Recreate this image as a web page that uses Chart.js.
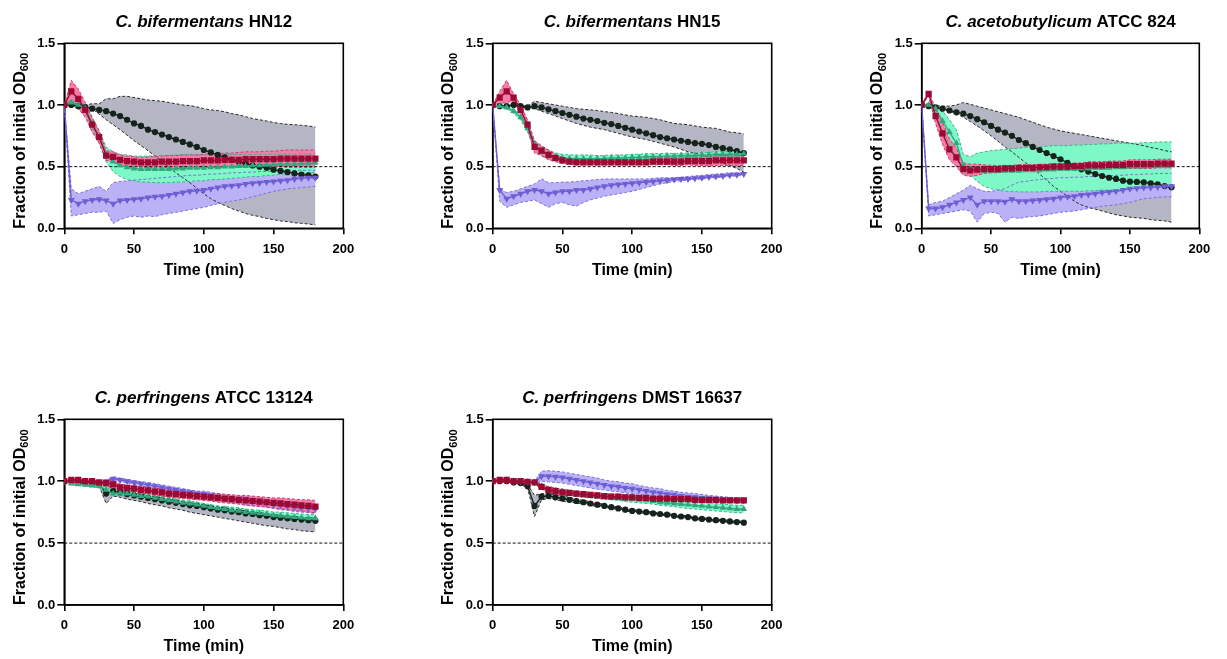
<!DOCTYPE html>
<html><head><meta charset="utf-8">
<script src="https://cdn.jsdelivr.net/npm/chart.js@4/dist/chart.umd.min.js"></script>
<style>
html,body{margin:0;padding:0;background:#fff;width:1227px;height:659px;overflow:hidden}
canvas{position:absolute;left:0;top:0}
</style>
</head><body>
<canvas id="c0" width="1227" height="659"></canvas>
<canvas id="c1" width="1227" height="659"></canvas>
<canvas id="c2" width="1227" height="659"></canvas>
<canvas id="c3" width="1227" height="659"></canvas>
<canvas id="c4" width="1227" height="659"></canvas>
<script>
// ---------- shared axes ----------
const T = [0,5,10,15,20,25,30,35,40,45,50,55,60,65,70,75,80,85,90,95,100,105,110,115,120,125,130,135,140,145,150,155,160,165,170,175,180];
const X_TICKS = [0,50,100,150,200];
const Y_TICKS = [0,0.5,1.0,1.5];
const REF = 0.5;
const TITLES = [
  ['C. bifermentans','HN12'],
  ['C. bifermentans','HN15'],
  ['C. acetobutylicum','ATCC 824'],
  ['C. perfringens','ATCC 13124'],
  ['C. perfringens','DMST 16637']
];
const X_TITLE = 'Time (min)';
const Y_TITLE = 'Fraction of initial OD';
const Y_TITLE_SUB = '600';

// ---------- C. bifermentans HN12 ----------
const HN12_BLACK = [1.00,1.00,0.99,0.98,0.97,0.96,0.95,0.93,0.91,0.88,
  0.85,0.83,0.80,0.78,0.76,0.74,0.72,0.70,0.68,0.66,
  0.635,0.615,0.595,0.575,0.555,0.54,0.525,0.51,0.50,0.49,
  0.475,0.465,0.455,0.445,0.435,0.43,0.42];
const HN12_BLACK_HI = [1.00,1.00,1.00,1.00,1.01,1.01,1.05,1.05,1.07,1.07,
  1.06,1.05,1.04,1.035,1.03,1.02,1.01,1.00,0.995,0.985,
  0.97,0.96,0.955,0.945,0.93,0.92,0.905,0.89,0.88,0.87,
  0.857,0.85,0.843,0.84,0.835,0.83,0.82];
const HN12_BLACK_LO = [1.00,0.995,0.99,0.98,0.97,0.925,0.88,0.84,0.80,0.755,
  0.71,0.67,0.63,0.585,0.54,0.495,0.45,0.41,0.37,0.325,
  0.28,0.24,0.21,0.185,0.16,0.14,0.12,0.105,0.095,0.08,
  0.07,0.06,0.055,0.045,0.04,0.035,0.027];
const HN12_RED = [1.00,1.11,1.05,0.96,0.84,0.74,0.59,0.58,0.555,0.545,
  0.54,0.535,0.535,0.535,0.54,0.54,0.54,0.545,0.545,0.545,
  0.55,0.55,0.55,0.555,0.555,0.555,0.56,0.56,0.56,0.56,
  0.56,0.565,0.565,0.565,0.565,0.565,0.565];
const HN12_RED_SD = [0,0.09,0.08,0.06,0.06,0.05,0.04,0.04,0.04,0.04,
  0.04,0.04,0.045,0.045,0.045,0.05,0.05,0.05,0.05,0.05,
  0.05,0.055,0.055,0.055,0.055,0.06,0.06,0.06,0.06,0.065,
  0.065,0.065,0.07,0.07,0.07,0.07,0.07];
const HN12_GREEN = [1.00,1.02,1.00,0.97,0.85,0.74,0.60,0.54,0.51,0.495,
  0.485,0.48,0.48,0.48,0.48,0.48,0.485,0.485,0.49,0.49,
  0.49,0.495,0.495,0.50,0.50,0.505,0.505,0.51,0.51,0.515,
  0.515,0.52,0.52,0.52,0.525,0.525,0.53];
const HN12_GREEN_SD = [0,0.02,0.02,0.03,0.04,0.05,0.06,0.08,0.09,0.10,
  0.10,0.105,0.105,0.11,0.11,0.11,0.11,0.11,0.11,0.105,
  0.105,0.10,0.10,0.10,0.095,0.095,0.09,0.09,0.09,0.085,
  0.085,0.08,0.08,0.08,0.08,0.075,0.075];
const HN12_PURPLE = [1.00,0.23,0.20,0.22,0.23,0.235,0.225,0.20,0.225,0.23,
  0.235,0.24,0.25,0.255,0.26,0.27,0.28,0.29,0.30,0.305,
  0.31,0.32,0.33,0.34,0.345,0.35,0.36,0.365,0.37,0.375,
  0.38,0.385,0.39,0.40,0.405,0.41,0.41];
const HN12_PURPLE_HI = [1.00,0.32,0.28,0.30,0.32,0.34,0.30,0.37,0.38,0.385,
  0.39,0.395,0.40,0.405,0.41,0.415,0.42,0.425,0.43,0.43,
  0.435,0.44,0.44,0.445,0.45,0.45,0.455,0.455,0.46,0.46,
  0.465,0.465,0.47,0.47,0.47,0.47,0.47];
const HN12_PURPLE_LO = [1.00,0.10,0.11,0.12,0.13,0.13,0.14,0.04,0.07,0.09,
  0.10,0.09,0.10,0.095,0.11,0.12,0.13,0.14,0.15,0.16,
  0.17,0.185,0.20,0.21,0.22,0.23,0.24,0.255,0.27,0.285,
  0.30,0.31,0.32,0.325,0.33,0.335,0.34];

// ---------- C. bifermentans HN15 ----------
const HN15_BLACK = [1.00,0.99,0.99,1.00,0.99,0.98,0.99,0.98,0.965,0.95,
  0.935,0.92,0.905,0.89,0.88,0.87,0.855,0.845,0.83,0.815,
  0.80,0.785,0.77,0.755,0.74,0.73,0.72,0.71,0.70,0.69,
  0.685,0.675,0.66,0.65,0.64,0.625,0.61];
const HN15_BLACK_HI = [1.00,0.995,0.995,1.00,0.995,0.99,1.03,1.02,1.01,1.00,
  0.99,0.98,0.97,0.965,0.96,0.955,0.946,0.94,0.93,0.92,
  0.91,0.905,0.90,0.89,0.88,0.865,0.85,0.845,0.84,0.83,
  0.82,0.815,0.81,0.795,0.78,0.775,0.765];
const HN15_BLACK_LO = [1.00,0.985,0.985,1.00,0.985,0.97,0.97,0.95,0.93,0.91,
  0.89,0.87,0.85,0.835,0.82,0.81,0.80,0.785,0.77,0.755,
  0.74,0.73,0.72,0.705,0.69,0.675,0.66,0.64,0.62,0.61,
  0.595,0.575,0.55,0.53,0.51,0.485,0.455];
const HN15_RED = [1.00,1.06,1.11,1.06,0.96,0.84,0.66,0.63,0.595,0.57,
  0.55,0.54,0.535,0.535,0.535,0.535,0.535,0.535,0.535,0.535,
  0.535,0.535,0.535,0.54,0.54,0.54,0.54,0.54,0.545,0.545,
  0.545,0.545,0.55,0.55,0.55,0.55,0.55];
const HN15_RED_SD = [0,0.05,0.09,0.03,0.04,0.04,0.05,0.04,0.04,0.03,
  0.025,0.02,0.02,0.02,0.02,0.02,0.02,0.02,0.02,0.02,
  0.02,0.02,0.02,0.025,0.025,0.025,0.03,0.03,0.03,0.035,
  0.035,0.04,0.04,0.04,0.04,0.04,0.04];
const HN15_GREEN = [1.00,0.99,0.98,0.95,0.90,0.81,0.68,0.62,0.60,0.58,
  0.57,0.565,0.565,0.565,0.565,0.565,0.565,0.57,0.57,0.57,
  0.575,0.575,0.58,0.58,0.58,0.585,0.585,0.59,0.59,0.59,
  0.595,0.595,0.60,0.60,0.60,0.60,0.605];
const HN15_GREEN_SD = [0,0.01,0.01,0.02,0.02,0.03,0.03,0.035,0.035,0.03,
  0.03,0.03,0.03,0.03,0.03,0.025,0.025,0.025,0.025,0.025,
  0.025,0.025,0.025,0.025,0.025,0.025,0.02,0.02,0.02,0.02,
  0.02,0.02,0.02,0.02,0.02,0.02,0.02];
const HN15_PURPLE = [1.00,0.31,0.24,0.26,0.28,0.30,0.31,0.30,0.28,0.29,
  0.30,0.30,0.31,0.31,0.32,0.33,0.34,0.35,0.355,0.36,
  0.365,0.37,0.375,0.38,0.385,0.39,0.395,0.40,0.40,0.405,
  0.41,0.415,0.42,0.425,0.43,0.435,0.44];
const HN15_PURPLE_HI = [1.00,0.32,0.29,0.30,0.32,0.34,0.36,0.40,0.37,0.37,
  0.375,0.375,0.38,0.385,0.39,0.395,0.40,0.40,0.40,0.40,
  0.40,0.40,0.40,0.405,0.41,0.41,0.41,0.415,0.42,0.425,
  0.43,0.435,0.44,0.445,0.45,0.45,0.45];
const HN15_PURPLE_LO = [1.00,0.22,0.17,0.19,0.21,0.22,0.23,0.20,0.17,0.20,
  0.21,0.19,0.18,0.21,0.23,0.245,0.26,0.27,0.28,0.29,
  0.30,0.315,0.33,0.345,0.36,0.37,0.38,0.385,0.39,0.395,
  0.40,0.405,0.41,0.415,0.42,0.425,0.43];

// ---------- C. acetobutylicum ATCC 824 ----------
const A824_BLACK = [1.00,0.99,0.98,0.97,0.955,0.94,0.93,0.91,0.885,0.86,
  0.83,0.80,0.776,0.75,0.716,0.69,0.66,0.635,0.61,0.586,
  0.56,0.53,0.50,0.478,0.46,0.44,0.424,0.41,0.40,0.386,
  0.378,0.376,0.373,0.365,0.357,0.343,0.332];
const A824_BLACK_HI = [1.00,1.00,0.995,0.99,0.99,1.00,1.02,1.005,0.99,0.975,
  0.96,0.945,0.93,0.915,0.90,0.88,0.86,0.84,0.82,0.805,
  0.79,0.78,0.77,0.76,0.75,0.74,0.73,0.72,0.71,0.70,
  0.69,0.68,0.67,0.655,0.645,0.63,0.62];
const A824_BLACK_LO = [1.00,0.99,0.975,0.965,0.95,0.93,0.90,0.865,0.83,0.79,
  0.75,0.705,0.66,0.62,0.575,0.53,0.49,0.44,0.39,0.34,
  0.30,0.26,0.22,0.19,0.17,0.155,0.14,0.125,0.11,0.10,
  0.09,0.085,0.08,0.07,0.065,0.06,0.05];
const A824_RED = [1.00,1.09,0.91,0.77,0.64,0.575,0.48,0.47,0.475,0.48,
  0.48,0.48,0.485,0.485,0.49,0.49,0.49,0.495,0.495,0.50,
  0.50,0.50,0.505,0.505,0.51,0.51,0.51,0.515,0.515,0.515,
  0.52,0.52,0.52,0.52,0.525,0.525,0.525];
const A824_RED_SD = [0,0.02,0.06,0.09,0.085,0.075,0.05,0.05,0.045,0.035,
  0.03,0.03,0.025,0.025,0.025,0.025,0.025,0.025,0.025,0.025,
  0.025,0.025,0.025,0.025,0.03,0.03,0.03,0.03,0.03,0.03,
  0.035,0.035,0.035,0.035,0.035,0.035,0.035];
const A824_GREEN = [1.00,1.00,0.97,0.87,0.78,0.69,0.51,0.48,0.47,0.465,
  0.465,0.465,0.465,0.465,0.465,0.47,0.47,0.47,0.475,0.475,
  0.48,0.48,0.48,0.485,0.485,0.49,0.49,0.49,0.495,0.495,
  0.50,0.50,0.50,0.505,0.505,0.51,0.51];
const A824_GREEN_HI = [1.00,1.01,1.00,0.95,0.88,0.80,0.60,0.58,0.61,0.62,
  0.63,0.635,0.64,0.645,0.65,0.655,0.66,0.66,0.665,0.67,
  0.67,0.67,0.675,0.675,0.68,0.68,0.685,0.685,0.69,0.69,
  0.69,0.69,0.695,0.695,0.70,0.70,0.70];
const A824_GREEN_LO = [1.00,0.99,0.94,0.79,0.68,0.58,0.45,0.43,0.38,0.34,
  0.32,0.31,0.30,0.30,0.295,0.295,0.295,0.295,0.30,0.30,
  0.30,0.30,0.30,0.30,0.305,0.305,0.31,0.31,0.31,0.315,
  0.32,0.325,0.33,0.335,0.34,0.34,0.345];
const A824_PURPLE = [1.00,0.16,0.16,0.17,0.19,0.21,0.23,0.25,0.19,0.22,
  0.22,0.22,0.215,0.235,0.22,0.22,0.225,0.23,0.235,0.24,
  0.25,0.255,0.26,0.27,0.275,0.28,0.29,0.295,0.30,0.31,
  0.32,0.325,0.33,0.33,0.335,0.34,0.34];
const A824_PURPLE_HI = [1.00,0.19,0.21,0.22,0.25,0.28,0.31,0.35,0.32,0.30,
  0.30,0.31,0.32,0.35,0.375,0.38,0.39,0.395,0.40,0.405,
  0.41,0.41,0.415,0.415,0.42,0.42,0.425,0.425,0.43,0.43,
  0.435,0.435,0.44,0.44,0.445,0.445,0.445];
const A824_PURPLE_LO = [1.00,0.10,0.11,0.12,0.13,0.14,0.15,0.14,0.05,0.12,
  0.13,0.12,0.05,0.09,0.08,0.09,0.095,0.10,0.11,0.12,
  0.13,0.135,0.14,0.15,0.16,0.17,0.18,0.185,0.19,0.20,
  0.21,0.225,0.24,0.245,0.25,0.255,0.255];

// ---------- C. perfringens ATCC 13124 ----------
const P131_BLACK = [1.00,1.00,0.995,0.99,0.99,0.98,0.90,0.92,0.91,0.895,
  0.885,0.875,0.865,0.855,0.845,0.835,0.825,0.815,0.805,0.80,
  0.79,0.78,0.77,0.765,0.755,0.75,0.74,0.735,0.725,0.72,
  0.71,0.705,0.70,0.695,0.69,0.685,0.68];
const P131_BLACK_HI = [1.00,1.005,1.00,0.995,0.995,0.99,0.97,0.94,0.93,0.915,
  0.905,0.895,0.885,0.875,0.865,0.855,0.845,0.835,0.825,0.82,
  0.81,0.80,0.79,0.785,0.775,0.77,0.76,0.755,0.745,0.74,
  0.73,0.725,0.72,0.715,0.71,0.705,0.70];
const P131_BLACK_LO = [1.00,0.995,0.985,0.98,0.98,0.96,0.82,0.88,0.87,0.855,
  0.845,0.835,0.82,0.81,0.80,0.785,0.775,0.765,0.75,0.74,
  0.73,0.72,0.71,0.70,0.69,0.68,0.67,0.66,0.65,0.64,
  0.635,0.625,0.615,0.61,0.60,0.595,0.59];
const P131_RED = [1.00,1.01,1.01,1.00,1.00,0.99,0.985,0.975,0.95,0.945,
  0.94,0.93,0.925,0.915,0.91,0.90,0.895,0.89,0.885,0.88,
  0.875,0.87,0.865,0.86,0.855,0.85,0.845,0.84,0.835,0.83,
  0.825,0.82,0.815,0.81,0.805,0.80,0.795];
const P131_RED_SD = [0,0.01,0.01,0.01,0.01,0.01,0.02,0.03,0.025,0.025,
  0.025,0.025,0.025,0.03,0.03,0.03,0.03,0.03,0.03,0.03,
  0.03,0.03,0.035,0.035,0.035,0.035,0.04,0.04,0.04,0.04,
  0.04,0.045,0.045,0.045,0.045,0.05,0.05];
const P131_GREEN = [1.00,0.98,0.975,0.97,0.965,0.96,0.93,0.90,0.905,0.90,
  0.89,0.88,0.875,0.865,0.855,0.845,0.835,0.825,0.82,0.81,
  0.80,0.79,0.78,0.775,0.765,0.76,0.75,0.745,0.74,0.735,
  0.725,0.72,0.715,0.71,0.705,0.70,0.70];
const P131_GREEN_SD = [0,0.01,0.01,0.01,0.01,0.015,0.02,0.02,0.02,0.02,
  0.02,0.02,0.02,0.02,0.02,0.02,0.02,0.02,0.02,0.02,
  0.02,0.02,0.02,0.02,0.025,0.025,0.025,0.025,0.025,0.025,
  0.025,0.03,0.03,0.03,0.03,0.03,0.03];
const P131_PURPLE = [1.00,1.00,1.00,1.00,0.99,0.99,1.00,1.02,1.01,1.00,
  0.99,0.98,0.97,0.96,0.95,0.94,0.93,0.92,0.91,0.90,
  0.895,0.885,0.875,0.865,0.855,0.85,0.84,0.835,0.83,0.82,
  0.81,0.805,0.80,0.79,0.785,0.78,0.775];
const P131_PURPLE_SD = [0,0.01,0.01,0.01,0.01,0.01,0.01,0.015,0.015,0.015,
  0.015,0.015,0.02,0.02,0.02,0.02,0.02,0.02,0.02,0.02,
  0.025,0.025,0.025,0.025,0.025,0.03,0.03,0.03,0.03,0.03,
  0.03,0.035,0.035,0.035,0.035,0.035,0.035];

// ---------- C. perfringens DMST 16637 ----------
const D166_BLACK = [1.00,1.00,1.00,0.99,0.985,0.96,0.80,0.875,0.88,0.87,
  0.86,0.85,0.84,0.83,0.82,0.81,0.80,0.79,0.78,0.77,
  0.76,0.755,0.75,0.74,0.735,0.73,0.72,0.715,0.71,0.70,
  0.695,0.69,0.685,0.68,0.675,0.67,0.665];
const D166_BLACK_SD = [0,0.005,0.005,0.01,0.01,0.015,0.085,0.025,0.02,0.02,
  0.02,0.02,0.015,0.015,0.015,0.015,0.01,0.01,0.01,0.01,
  0.01,0.01,0.01,0.01,0.01,0.01,0.01,0.01,0.01,0.01,
  0.01,0.01,0.01,0.01,0.01,0.01,0.01];
const D166_RED = [1.00,1.01,1.01,1.00,1.00,0.995,0.99,0.955,0.93,0.92,
  0.91,0.905,0.90,0.895,0.89,0.885,0.88,0.875,0.875,0.87,
  0.87,0.865,0.865,0.86,0.86,0.86,0.855,0.855,0.855,0.85,
  0.85,0.85,0.85,0.845,0.845,0.845,0.845];
const D166_RED_SD = [0,0.01,0.01,0.01,0.01,0.01,0.01,0.02,0.025,0.025,
  0.025,0.02,0.02,0.02,0.02,0.02,0.02,0.02,0.02,0.02,
  0.02,0.015,0.015,0.015,0.015,0.015,0.015,0.015,0.015,0.015,
  0.015,0.015,0.015,0.015,0.015,0.015,0.015];
const D166_GREEN = [1.00,1.01,1.01,1.00,1.00,0.995,0.99,0.96,0.935,0.925,
  0.915,0.905,0.895,0.89,0.885,0.88,0.875,0.87,0.865,0.86,
  0.855,0.85,0.845,0.84,0.83,0.825,0.82,0.815,0.81,0.805,
  0.80,0.795,0.79,0.785,0.78,0.775,0.775];
const D166_GREEN_SD = [0,0.005,0.005,0.005,0.005,0.005,0.01,0.02,0.02,0.02,
  0.02,0.02,0.02,0.02,0.02,0.02,0.02,0.02,0.02,0.025,
  0.025,0.025,0.025,0.025,0.025,0.025,0.025,0.03,0.03,0.03,
  0.03,0.03,0.03,0.03,0.03,0.03,0.03];
const D166_PURPLE = [1.00,1.01,1.01,1.00,1.00,0.995,0.99,1.04,1.04,1.035,
  1.03,1.02,1.01,1.00,0.99,0.98,0.97,0.96,0.955,0.945,
  0.94,0.93,0.92,0.91,0.905,0.895,0.89,0.88,0.875,0.87,
  0.865,0.86,0.855,0.85,0.85,0.845,0.845];
const D166_PURPLE_SD = [0,0.005,0.005,0.005,0.005,0.005,0.01,0.04,0.045,0.045,
  0.045,0.045,0.045,0.045,0.045,0.045,0.04,0.04,0.04,0.04,
  0.04,0.035,0.035,0.035,0.035,0.03,0.03,0.03,0.03,0.03,
  0.028,0.025,0.025,0.025,0.02,0.02,0.02];

// ---------- layout / style ----------
const AREAS = [
  {l:64.3, r:343.3, t:43.3, b:228.3},
  {l:492.7, r:771.7, t:43.3, b:228.3},
  {l:921.7, r:1199.3, t:43.3, b:228.3},
  {l:64.3, r:343.3, t:419.3, b:605},
  {l:492.7, r:771.7, t:419.3, b:605}
];
const SERIES = [
  [{k:'black',mean:HN12_BLACK,hi:HN12_BLACK_HI,lo:HN12_BLACK_LO},{k:'purple',mean:HN12_PURPLE,hi:HN12_PURPLE_HI,lo:HN12_PURPLE_LO},{k:'green',mean:HN12_GREEN,sd:HN12_GREEN_SD},{k:'red',mean:HN12_RED,sd:HN12_RED_SD}],
  [{k:'black',mean:HN15_BLACK,hi:HN15_BLACK_HI,lo:HN15_BLACK_LO},{k:'purple',mean:HN15_PURPLE,hi:HN15_PURPLE_HI,lo:HN15_PURPLE_LO},{k:'green',mean:HN15_GREEN,sd:HN15_GREEN_SD},{k:'red',mean:HN15_RED,sd:HN15_RED_SD}],
  [{k:'black',mean:A824_BLACK,hi:A824_BLACK_HI,lo:A824_BLACK_LO},{k:'purple',mean:A824_PURPLE,hi:A824_PURPLE_HI,lo:A824_PURPLE_LO},{k:'green',mean:A824_GREEN,hi:A824_GREEN_HI,lo:A824_GREEN_LO},{k:'red',mean:A824_RED,sd:A824_RED_SD}],
  [{k:'black',mean:P131_BLACK,hi:P131_BLACK_HI,lo:P131_BLACK_LO},{k:'purple',mean:P131_PURPLE,sd:P131_PURPLE_SD},{k:'green',mean:P131_GREEN,sd:P131_GREEN_SD},{k:'red',mean:P131_RED,sd:P131_RED_SD}],
  [{k:'black',mean:D166_BLACK,sd:D166_BLACK_SD},{k:'purple',mean:D166_PURPLE,sd:D166_PURPLE_SD},{k:'green',mean:D166_GREEN,sd:D166_GREEN_SD},{k:'red',mean:D166_RED,sd:D166_RED_SD}]
];
const STYLE = {
  black: {line:'#15231c', fill:'#b4b7c3', edge:'#2a2a2a', shape:'circle', r:3.1, rot:0, mo:40, bo:400},
  purple:{line:'#6e5ed4', fill:'#bab2f6', edge:'#7d6fdc', shape:'triangle', r:4.0, rot:180, mo:30, bo:300},
  green: {line:'#33a67f', fill:'#7ff8c7', edge:'#3cb48b', shape:'triangle', r:3.8, rot:0, mo:20, bo:200},
  red:   {line:'#9c0a33', fill:'#f47ca8', edge:'#cf3a6b', shape:'rect', r:4.4, rot:0, mo:10, bo:100}
};
const FAM = '"Liberation Sans", Arial, Helvetica, sans-serif';
const W = 1227, H = 659, AXW = 40, AXH = 30;

const pts = arr => T.map((t,i) => ({x:t, y:arr[i]}));

const decor = {
  id:'decor',
  beforeDatasetsDraw(chart, args, o){
    const {ctx, chartArea:a} = chart;
    ctx.save();
    ctx.strokeStyle = '#000'; ctx.lineWidth = 1.6;
    ctx.strokeRect(a.left, a.top, a.right-a.left, a.bottom-a.top);
    ctx.restore();
  },
  afterDraw(chart, args, o){
    const {ctx, chartArea:a} = chart;
    ctx.save();
    ctx.fillStyle = '#000';
    ctx.textBaseline = 'middle'; ctx.textAlign = 'left';
    // title
    const [it, rest] = o.title;
    ctx.font = 'italic bold 17px ' + FAM;
    const w1 = ctx.measureText(it + ' ').width;
    ctx.font = 'bold 17px ' + FAM;
    const w2 = ctx.measureText(rest).width;
    let x = (a.left + a.right)/2 - (w1 + w2)/2;
    const ty = a.top - 21;
    ctx.font = 'italic bold 17px ' + FAM; ctx.fillText(it + ' ', x, ty);
    ctx.font = 'bold 17px ' + FAM; ctx.fillText(rest, x + w1, ty);
    // x title
    ctx.textAlign = 'center';
    ctx.font = 'bold 16px ' + FAM;
    ctx.fillText(X_TITLE, (a.left + a.right)/2, a.bottom + 42);
    // y title
    ctx.translate(a.left - 44, (a.top + a.bottom)/2 + 5);
    ctx.rotate(-Math.PI/2);
    ctx.textAlign = 'left';
    ctx.font = 'bold 16px ' + FAM;
    const m = ctx.measureText(Y_TITLE).width;
    ctx.font = 'bold 11px ' + FAM;
    const s = ctx.measureText(Y_TITLE_SUB).width;
    const x0 = -(m + s)/2;
    ctx.font = 'bold 16px ' + FAM; ctx.fillText(Y_TITLE, x0, 0);
    ctx.font = 'bold 11px ' + FAM; ctx.fillText(Y_TITLE_SUB, x0 + m, 5);
    ctx.restore();
  }
};

function build(idx){
  const A = AREAS[idx];
  const datasets = [];
  SERIES[idx].forEach(sr => {
    const st = STYLE[sr.k];
    const hi = sr.hi ? sr.hi : sr.mean.map((v,i) => v + sr.sd[i]);
    const lo = sr.lo ? sr.lo : sr.mean.map((v,i) => v - sr.sd[i]);
    const hiIndex = datasets.length;
    datasets.push({data:pts(hi), borderColor:st.edge, borderWidth:1, borderDash:[3,2], pointRadius:0,
      backgroundColor:st.fill, fill:{target:hiIndex+1}, order:st.bo, tension:0});
    datasets.push({data:pts(lo), borderColor:st.edge, borderWidth:1, borderDash:[3,2], pointRadius:0,
      fill:false, order:st.bo, tension:0});
  });
  datasets.push({data:[{x:0,y:REF},{x:200,y:REF}], borderColor:'#111', borderWidth:1, borderDash:[3,2],
    pointRadius:0, fill:false, order:50});
  SERIES[idx].forEach(sr => {
    const st = STYLE[sr.k];
    datasets.push({data:pts(sr.mean), borderColor:st.line, borderWidth:1.4, fill:false, order:st.mo,
      pointStyle:st.shape, pointRadius:st.r, pointRotation:st.rot, pointBackgroundColor:st.line,
      pointBorderColor:st.line, pointBorderWidth:0, tension:0});
  });
  const tickFont = {family:FAM, size:13, weight:'bold'};
  new Chart(document.getElementById('c'+idx), {
    type:'line',
    data:{datasets},
    plugins:[decor],
    options:{
      responsive:false, animation:false, devicePixelRatio:1,
      layout:{padding:{left:A.l-AXW, right:W-A.r, top:A.t, bottom:H-A.b-AXH}},
      plugins:{legend:{display:false}, tooltip:{enabled:false},
        filler:{drawTime:'beforeDatasetsDraw', propagate:false},
        decor:{title:TITLES[idx]}},
      scales:{
        x:{type:'linear', min:0, max:200,
          afterFit:s => { s.height = AXH; },
          afterBuildTicks:s => { s.ticks = X_TICKS.map(v => ({value:v})); },
          ticks:{font:tickFont, color:'#000', padding:7, maxRotation:0, autoSkip:false},
          grid:{display:true, drawOnChartArea:false, drawTicks:true, tickLength:6, color:'#000', lineWidth:1.6},
          border:{display:true, color:'#000', width:1.6}},
        y:{type:'linear', min:0, max:1.5,
          afterFit:s => { s.width = AXW; },
          afterBuildTicks:s => { s.ticks = Y_TICKS.map(v => ({value:v})); },
          ticks:{font:tickFont, color:'#000', padding:2, autoSkip:false, callback:v => Number(v).toFixed(1)},
          grid:{display:true, drawOnChartArea:false, drawTicks:true, tickLength:7, color:'#000', lineWidth:1.6},
          border:{display:true, color:'#000', width:1.6}}
      }
    }
  });
}
for (let i = 0; i < 5; i++) build(i);
</script>
</body></html>
